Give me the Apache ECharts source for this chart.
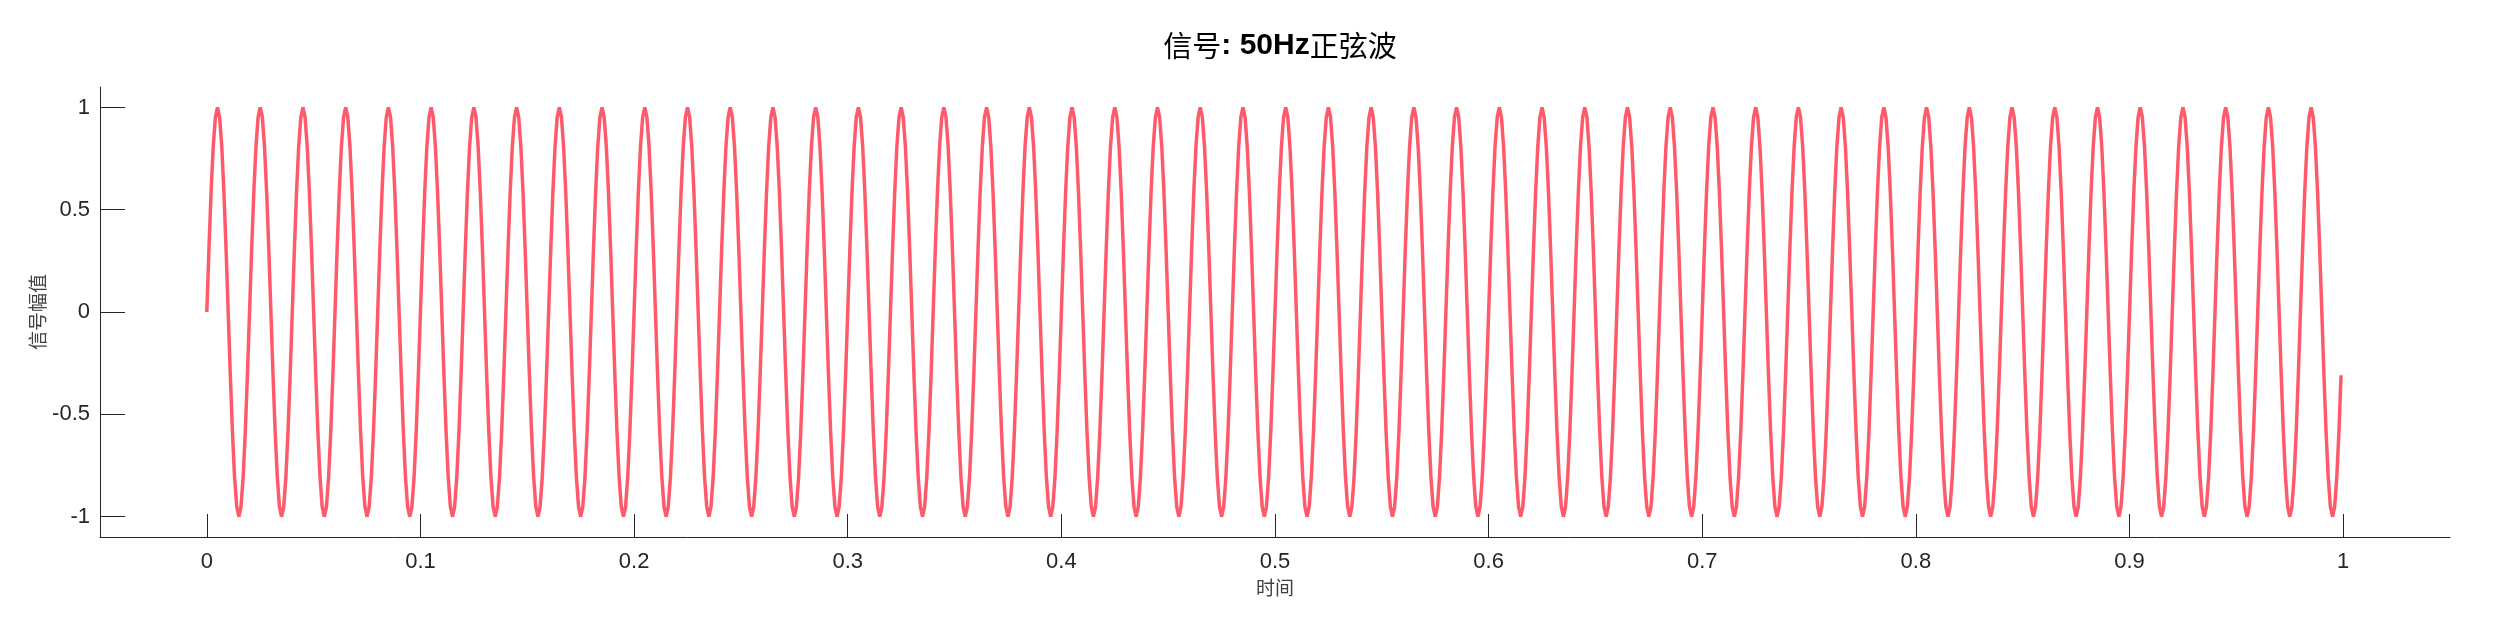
<!DOCTYPE html>
<html>
<head>
<meta charset="utf-8">
<script src="https://cdn.jsdelivr.net/npm/echarts@6/dist/echarts.min.js"></script>
<style>html,body{margin:0;padding:0;background:#fff}#chart{width:2500px;height:625px}</style>
</head>
<body>
<div id="chart"></div>
<script>
// Signal: 50 Hz sine, sampled at 1000 Hz for 1 s (samples 0 .. 0.999 s)
const sampleRate = 1000;
const signalValues = [
0,.309,.588,.809,.951,1,.951,.809,.588,.309,0,-.309,-.588,-.809,-.951,-1,-.951,-.809,-.588,-.309,
0,.309,.588,.809,.951,1,.951,.809,.588,.309,0,-.309,-.588,-.809,-.951,-1,-.951,-.809,-.588,-.309,
0,.309,.588,.809,.951,1,.951,.809,.588,.309,0,-.309,-.588,-.809,-.951,-1,-.951,-.809,-.588,-.309,
0,.309,.588,.809,.951,1,.951,.809,.588,.309,0,-.309,-.588,-.809,-.951,-1,-.951,-.809,-.588,-.309,
0,.309,.588,.809,.951,1,.951,.809,.588,.309,0,-.309,-.588,-.809,-.951,-1,-.951,-.809,-.588,-.309,
0,.309,.588,.809,.951,1,.951,.809,.588,.309,0,-.309,-.588,-.809,-.951,-1,-.951,-.809,-.588,-.309,
0,.309,.588,.809,.951,1,.951,.809,.588,.309,0,-.309,-.588,-.809,-.951,-1,-.951,-.809,-.588,-.309,
0,.309,.588,.809,.951,1,.951,.809,.588,.309,0,-.309,-.588,-.809,-.951,-1,-.951,-.809,-.588,-.309,
0,.309,.588,.809,.951,1,.951,.809,.588,.309,0,-.309,-.588,-.809,-.951,-1,-.951,-.809,-.588,-.309,
0,.309,.588,.809,.951,1,.951,.809,.588,.309,0,-.309,-.588,-.809,-.951,-1,-.951,-.809,-.588,-.309,
0,.309,.588,.809,.951,1,.951,.809,.588,.309,0,-.309,-.588,-.809,-.951,-1,-.951,-.809,-.588,-.309,
0,.309,.588,.809,.951,1,.951,.809,.588,.309,0,-.309,-.588,-.809,-.951,-1,-.951,-.809,-.588,-.309,
0,.309,.588,.809,.951,1,.951,.809,.588,.309,0,-.309,-.588,-.809,-.951,-1,-.951,-.809,-.588,-.309,
0,.309,.588,.809,.951,1,.951,.809,.588,.309,0,-.309,-.588,-.809,-.951,-1,-.951,-.809,-.588,-.309,
0,.309,.588,.809,.951,1,.951,.809,.588,.309,0,-.309,-.588,-.809,-.951,-1,-.951,-.809,-.588,-.309,
0,.309,.588,.809,.951,1,.951,.809,.588,.309,0,-.309,-.588,-.809,-.951,-1,-.951,-.809,-.588,-.309,
0,.309,.588,.809,.951,1,.951,.809,.588,.309,0,-.309,-.588,-.809,-.951,-1,-.951,-.809,-.588,-.309,
0,.309,.588,.809,.951,1,.951,.809,.588,.309,0,-.309,-.588,-.809,-.951,-1,-.951,-.809,-.588,-.309,
0,.309,.588,.809,.951,1,.951,.809,.588,.309,0,-.309,-.588,-.809,-.951,-1,-.951,-.809,-.588,-.309,
0,.309,.588,.809,.951,1,.951,.809,.588,.309,0,-.309,-.588,-.809,-.951,-1,-.951,-.809,-.588,-.309,
0,.309,.588,.809,.951,1,.951,.809,.588,.309,0,-.309,-.588,-.809,-.951,-1,-.951,-.809,-.588,-.309,
0,.309,.588,.809,.951,1,.951,.809,.588,.309,0,-.309,-.588,-.809,-.951,-1,-.951,-.809,-.588,-.309,
0,.309,.588,.809,.951,1,.951,.809,.588,.309,0,-.309,-.588,-.809,-.951,-1,-.951,-.809,-.588,-.309,
0,.309,.588,.809,.951,1,.951,.809,.588,.309,0,-.309,-.588,-.809,-.951,-1,-.951,-.809,-.588,-.309,
0,.309,.588,.809,.951,1,.951,.809,.588,.309,0,-.309,-.588,-.809,-.951,-1,-.951,-.809,-.588,-.309,
0,.309,.588,.809,.951,1,.951,.809,.588,.309,0,-.309,-.588,-.809,-.951,-1,-.951,-.809,-.588,-.309,
0,.309,.588,.809,.951,1,.951,.809,.588,.309,0,-.309,-.588,-.809,-.951,-1,-.951,-.809,-.588,-.309,
0,.309,.588,.809,.951,1,.951,.809,.588,.309,0,-.309,-.588,-.809,-.951,-1,-.951,-.809,-.588,-.309,
0,.309,.588,.809,.951,1,.951,.809,.588,.309,0,-.309,-.588,-.809,-.951,-1,-.951,-.809,-.588,-.309,
0,.309,.588,.809,.951,1,.951,.809,.588,.309,0,-.309,-.588,-.809,-.951,-1,-.951,-.809,-.588,-.309,
0,.309,.588,.809,.951,1,.951,.809,.588,.309,0,-.309,-.588,-.809,-.951,-1,-.951,-.809,-.588,-.309,
0,.309,.588,.809,.951,1,.951,.809,.588,.309,0,-.309,-.588,-.809,-.951,-1,-.951,-.809,-.588,-.309,
0,.309,.588,.809,.951,1,.951,.809,.588,.309,0,-.309,-.588,-.809,-.951,-1,-.951,-.809,-.588,-.309,
0,.309,.588,.809,.951,1,.951,.809,.588,.309,0,-.309,-.588,-.809,-.951,-1,-.951,-.809,-.588,-.309,
0,.309,.588,.809,.951,1,.951,.809,.588,.309,0,-.309,-.588,-.809,-.951,-1,-.951,-.809,-.588,-.309,
0,.309,.588,.809,.951,1,.951,.809,.588,.309,0,-.309,-.588,-.809,-.951,-1,-.951,-.809,-.588,-.309,
0,.309,.588,.809,.951,1,.951,.809,.588,.309,0,-.309,-.588,-.809,-.951,-1,-.951,-.809,-.588,-.309,
0,.309,.588,.809,.951,1,.951,.809,.588,.309,0,-.309,-.588,-.809,-.951,-1,-.951,-.809,-.588,-.309,
0,.309,.588,.809,.951,1,.951,.809,.588,.309,0,-.309,-.588,-.809,-.951,-1,-.951,-.809,-.588,-.309,
0,.309,.588,.809,.951,1,.951,.809,.588,.309,0,-.309,-.588,-.809,-.951,-1,-.951,-.809,-.588,-.309,
0,.309,.588,.809,.951,1,.951,.809,.588,.309,0,-.309,-.588,-.809,-.951,-1,-.951,-.809,-.588,-.309,
0,.309,.588,.809,.951,1,.951,.809,.588,.309,0,-.309,-.588,-.809,-.951,-1,-.951,-.809,-.588,-.309,
0,.309,.588,.809,.951,1,.951,.809,.588,.309,0,-.309,-.588,-.809,-.951,-1,-.951,-.809,-.588,-.309,
0,.309,.588,.809,.951,1,.951,.809,.588,.309,0,-.309,-.588,-.809,-.951,-1,-.951,-.809,-.588,-.309,
0,.309,.588,.809,.951,1,.951,.809,.588,.309,0,-.309,-.588,-.809,-.951,-1,-.951,-.809,-.588,-.309,
0,.309,.588,.809,.951,1,.951,.809,.588,.309,0,-.309,-.588,-.809,-.951,-1,-.951,-.809,-.588,-.309,
0,.309,.588,.809,.951,1,.951,.809,.588,.309,0,-.309,-.588,-.809,-.951,-1,-.951,-.809,-.588,-.309,
0,.309,.588,.809,.951,1,.951,.809,.588,.309,0,-.309,-.588,-.809,-.951,-1,-.951,-.809,-.588,-.309,
0,.309,.588,.809,.951,1,.951,.809,.588,.309,0,-.309,-.588,-.809,-.951,-1,-.951,-.809,-.588,-.309,
0,.309,.588,.809,.951,1,.951,.809,.588,.309,0,-.309,-.588,-.809,-.951,-1,-.951,-.809,-.588,-.309
];
const xTicks = [0, 0.1, 0.2, 0.3, 0.4, 0.5, 0.6, 0.7, 0.8, 0.9, 1];
const yTicks = [-1, -0.5, 0, 0.5, 1];
const titleCn1 = '信号';
const titleEn = ': 50Hz';
const titleCn2 = '正弦波';
const xName = '时间';
const yName = '信号幅值';

const seriesData = signalValues.map((v, i) => [i / sampleRate, v]);

const axisColor = '#262626';
const chart = echarts.init(document.getElementById('chart'), null, {renderer: 'canvas'});
chart.setOption({
  animation: false,
  backgroundColor: '#ffffff',
  title: {
    text: '{cn|' + titleCn1 + '}{en|' + titleEn + '}{cn|' + titleCn2 + '}',
    left: 1275,
    top: 26,
    textAlign: 'center',
    textStyle: {
      rich: {
        cn: {fontFamily: 'Noto Sans CJK SC', fontWeight: 'normal', fontSize: 29, color: '#000'},
        en: {fontFamily: 'Liberation Sans', fontWeight: 'bold', fontSize: 30, color: '#000'}
      }
    }
  },
  grid: {left: 100, right: 50, top: 87, bottom: 88},
  xAxis: {
    type: 'value',
    min: -0.05,
    max: 1.05,
    name: xName,
    nameLocation: 'middle',
    nameGap: 41,
    nameMoveOverlap: false,
    nameTextStyle: {fontFamily: 'Noto Sans CJK SC', fontSize: 19, color: '#404040'},
    axisLine: {show: true, onZero: false, lineStyle: {color: axisColor, width: 1}},
    axisTick: {show: true, inside: true, length: 23, customValues: xTicks, lineStyle: {color: axisColor, width: 1}},
    axisLabel: {show: true, customValues: xTicks, margin: 14, fontFamily: 'Liberation Sans', fontSize: 22, color: axisColor,
      formatter: v => String(Math.round(v * 10) / 10)},
    splitLine: {show: false}
  },
  yAxis: {
    type: 'value',
    min: -1.1,
    max: 1.1,
    name: yName,
    nameLocation: 'middle',
    nameGap: 53,
    nameMoveOverlap: false,
    nameTextStyle: {fontFamily: 'Noto Sans CJK SC', fontSize: 19, color: '#404040'},
    axisLine: {show: true, onZero: false, lineStyle: {color: axisColor, width: 1}},
    axisTick: {show: true, inside: true, length: 25, customValues: yTicks, lineStyle: {color: axisColor, width: 1}},
    axisLabel: {show: true, customValues: yTicks, margin: 10, fontFamily: 'Liberation Sans', fontSize: 22, color: axisColor},
    splitLine: {show: false}
  },
  series: [{
    type: 'line',
    data: seriesData,
    showSymbol: false,
    symbol: 'none',
    sampling: null,
    lineStyle: {color: '#ff5a6a', width: 3.5},
    itemStyle: {color: '#ff5a6a'},
    z: 1
  }]
});
</script>
</body>
</html>
